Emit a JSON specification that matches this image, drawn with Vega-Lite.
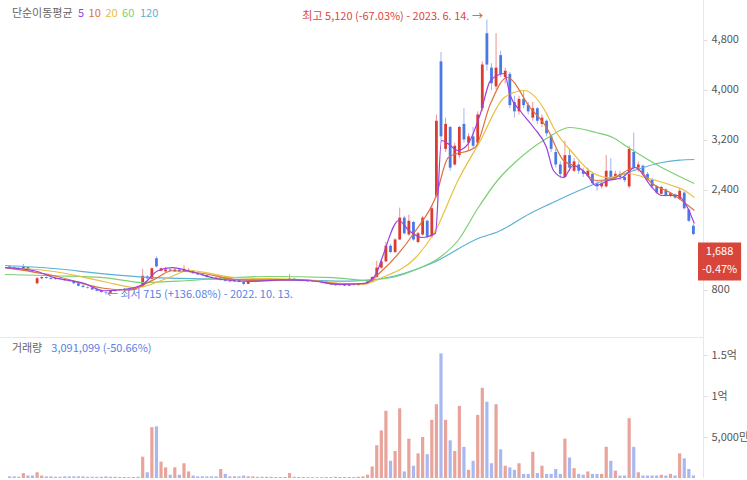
{
"$schema":"https://vega.github.io/schema/vega-lite/v6.json",
"padding":0,
"background":"white",
"config":{"view":{"stroke":null},"concat":{"spacing":0},"font":"Noto Sans CJK KR",
"axis":{"labelFont":"Noto Sans CJK KR","labelFontSize":11,"labelColor":"#555","tickColor":"#dddddd","tickSize":4,"domainColor":"#e8e8e8","grid":false,"title":null,"labelPadding":4}},
"datasets":{
"candles":[
{"i":0,"o":1170,"h":1185,"l":1150,"c":1160,"v":2},
{"i":1,"o":1160,"h":1175,"l":1140,"c":1150,"v":2},
{"i":2,"o":1145,"h":1160,"l":1130,"c":1140,"v":1.5},
{"i":3,"o":1140,"h":1210,"l":1135,"c":1170,"v":6},
{"i":4,"o":1160,"h":1165,"l":1100,"c":1110,"v":3},
{"i":5,"o":1110,"h":1120,"l":1080,"c":1090,"v":3},
{"i":6,"o":900,"h":1000,"l":880,"c":980,"v":7},
{"i":7,"o":980,"h":1010,"l":960,"c":1000,"v":3},
{"i":8,"o":1000,"h":1010,"l":975,"c":985,"v":2},
{"i":9,"o":985,"h":1000,"l":960,"c":970,"v":2},
{"i":10,"o":970,"h":990,"l":955,"c":980,"v":1.5},
{"i":11,"o":980,"h":995,"l":960,"c":970,"v":1.5},
{"i":12,"o":965,"h":975,"l":940,"c":950,"v":2},
{"i":13,"o":950,"h":960,"l":925,"c":935,"v":2},
{"i":14,"o":935,"h":945,"l":890,"c":900,"v":2},
{"i":15,"o":900,"h":905,"l":850,"c":860,"v":2},
{"i":16,"o":860,"h":880,"l":830,"c":840,"v":2},
{"i":17,"o":840,"h":850,"l":815,"c":830,"v":1.5},
{"i":18,"o":830,"h":840,"l":795,"c":800,"v":1.5},
{"i":19,"o":800,"h":810,"l":770,"c":780,"v":1.5},
{"i":20,"o":780,"h":790,"l":750,"c":760,"v":1.5},
{"i":21,"o":760,"h":770,"l":715,"c":750,"v":2},
{"i":22,"o":750,"h":790,"l":740,"c":775,"v":1.5},
{"i":23,"o":775,"h":800,"l":765,"c":790,"v":1.5},
{"i":24,"o":790,"h":810,"l":780,"c":795,"v":1.2},
{"i":25,"o":795,"h":815,"l":785,"c":805,"v":1.2},
{"i":26,"o":805,"h":810,"l":790,"c":798,"v":1},
{"i":27,"o":800,"h":830,"l":795,"c":820,"v":1.2},
{"i":28,"o":820,"h":840,"l":810,"c":830,"v":1.5},
{"i":29,"o":840,"h":1130,"l":835,"c":1020,"v":26},
{"i":30,"o":1010,"h":1030,"l":960,"c":980,"v":7},
{"i":31,"o":970,"h":1150,"l":960,"c":1140,"v":62},
{"i":32,"o":1300,"h":1330,"l":1150,"c":1170,"v":63},
{"i":33,"o":1100,"h":1150,"l":1090,"c":1140,"v":20},
{"i":34,"o":1090,"h":1160,"l":1080,"c":1120,"v":13},
{"i":35,"o":1120,"h":1130,"l":1090,"c":1100,"v":4},
{"i":36,"o":1090,"h":1140,"l":1085,"c":1120,"v":13},
{"i":37,"o":1120,"h":1125,"l":1080,"c":1090,"v":4},
{"i":38,"o":1090,"h":1190,"l":1085,"c":1130,"v":18},
{"i":39,"o":1100,"h":1140,"l":1090,"c":1115,"v":8},
{"i":40,"o":1100,"h":1105,"l":1050,"c":1060,"v":3},
{"i":41,"o":1060,"h":1070,"l":1030,"c":1040,"v":2},
{"i":42,"o":1040,"h":1050,"l":1020,"c":1030,"v":2},
{"i":43,"o":1030,"h":1035,"l":990,"c":1000,"v":2},
{"i":44,"o":1000,"h":1010,"l":980,"c":990,"v":2},
{"i":45,"o":990,"h":1000,"l":970,"c":980,"v":2},
{"i":46,"o":960,"h":1010,"l":940,"c":990,"v":11},
{"i":47,"o":985,"h":990,"l":930,"c":940,"v":5},
{"i":48,"o":940,"h":950,"l":915,"c":930,"v":2},
{"i":49,"o":930,"h":960,"l":925,"c":950,"v":2},
{"i":50,"o":950,"h":955,"l":915,"c":920,"v":2},
{"i":51,"o":920,"h":925,"l":870,"c":890,"v":3},
{"i":52,"o":890,"h":935,"l":885,"c":930,"v":2},
{"i":53,"o":930,"h":960,"l":925,"c":950,"v":2},
{"i":54,"o":950,"h":955,"l":930,"c":940,"v":1.5},
{"i":55,"o":940,"h":970,"l":935,"c":960,"v":1.5},
{"i":56,"o":960,"h":965,"l":940,"c":950,"v":1.5},
{"i":57,"o":950,"h":980,"l":945,"c":970,"v":1.5},
{"i":58,"o":970,"h":975,"l":950,"c":960,"v":1.2},
{"i":59,"o":960,"h":965,"l":940,"c":950,"v":1.2},
{"i":60,"o":950,"h":970,"l":945,"c":960,"v":1.2},
{"i":61,"o":955,"h":1050,"l":950,"c":975,"v":6},
{"i":62,"o":975,"h":980,"l":945,"c":950,"v":1.5},
{"i":63,"o":950,"h":955,"l":935,"c":940,"v":1.2},
{"i":64,"o":940,"h":960,"l":935,"c":950,"v":1.2},
{"i":65,"o":950,"h":952,"l":925,"c":930,"v":1.2},
{"i":66,"o":930,"h":945,"l":925,"c":940,"v":1},
{"i":67,"o":940,"h":942,"l":915,"c":920,"v":1},
{"i":68,"o":920,"h":935,"l":915,"c":930,"v":1},
{"i":69,"o":930,"h":932,"l":895,"c":900,"v":1.2},
{"i":70,"o":900,"h":905,"l":875,"c":880,"v":1.2},
{"i":71,"o":880,"h":885,"l":860,"c":870,"v":1.5},
{"i":72,"o":870,"h":890,"l":865,"c":880,"v":1.2},
{"i":73,"o":880,"h":882,"l":855,"c":860,"v":1.2},
{"i":74,"o":860,"h":885,"l":855,"c":880,"v":1.2},
{"i":75,"o":880,"h":885,"l":865,"c":870,"v":1.2},
{"i":76,"o":870,"h":895,"l":865,"c":890,"v":1.5},
{"i":77,"o":890,"h":905,"l":880,"c":900,"v":2},
{"i":78,"o":900,"h":940,"l":895,"c":930,"v":4},
{"i":79,"o":930,"h":1010,"l":925,"c":1000,"v":14},
{"i":80,"o":1000,"h":1260,"l":990,"c":1150,"v":40},
{"i":81,"o":1150,"h":1290,"l":1130,"c":1250,"v":58},
{"i":82,"o":1250,"h":1560,"l":1240,"c":1500,"v":82},
{"i":83,"o":1500,"h":1530,"l":1380,"c":1400,"v":21},
{"i":84,"o":1400,"h":1620,"l":1380,"c":1600,"v":33},
{"i":85,"o":1600,"h":2110,"l":1590,"c":1950,"v":85},
{"i":86,"o":1950,"h":1980,"l":1680,"c":1700,"v":8},
{"i":87,"o":1680,"h":2000,"l":1660,"c":1900,"v":48},
{"i":88,"o":1880,"h":1900,"l":1580,"c":1600,"v":15},
{"i":89,"o":1560,"h":1720,"l":1540,"c":1700,"v":30},
{"i":90,"o":1680,"h":1980,"l":1660,"c":1950,"v":50},
{"i":91,"o":1900,"h":1920,"l":1620,"c":1650,"v":29},
{"i":92,"o":1650,"h":2150,"l":1630,"c":2100,"v":71},
{"i":93,"o":2300,"h":3600,"l":2270,"c":3500,"v":90},
{"i":94,"o":4450,"h":4600,"l":3150,"c":3250,"v":152},
{"i":95,"o":3050,"h":3550,"l":3000,"c":3450,"v":71},
{"i":96,"o":3400,"h":3420,"l":2700,"c":2750,"v":46},
{"i":97,"o":2800,"h":3150,"l":2780,"c":3100,"v":33},
{"i":98,"o":2950,"h":3420,"l":2900,"c":3400,"v":88},
{"i":99,"o":3450,"h":3700,"l":3150,"c":3200,"v":38},
{"i":100,"o":3150,"h":3300,"l":3020,"c":3250,"v":10},
{"i":101,"o":3250,"h":3400,"l":3050,"c":3100,"v":21},
{"i":102,"o":3150,"h":3650,"l":3100,"c":3600,"v":77},
{"i":103,"o":3700,"h":4450,"l":3650,"c":4400,"v":110},
{"i":104,"o":4900,"h":5120,"l":4300,"c":4400,"v":93},
{"i":105,"o":4350,"h":4420,"l":3990,"c":4100,"v":18},
{"i":106,"o":4050,"h":4900,"l":4000,"c":4350,"v":90},
{"i":107,"o":4550,"h":4620,"l":4200,"c":4250,"v":35},
{"i":108,"o":4200,"h":4350,"l":4100,"c":4300,"v":15},
{"i":109,"o":4250,"h":4280,"l":3700,"c":3750,"v":13},
{"i":110,"o":3800,"h":3900,"l":3550,"c":3650,"v":10},
{"i":111,"o":3650,"h":3900,"l":3600,"c":3850,"v":18},
{"i":112,"o":3850,"h":3980,"l":3700,"c":3750,"v":5},
{"i":113,"o":3750,"h":3800,"l":3600,"c":3650,"v":5},
{"i":114,"o":3550,"h":3800,"l":3500,"c":3700,"v":32},
{"i":115,"o":3700,"h":3720,"l":3450,"c":3500,"v":6},
{"i":116,"o":3450,"h":3600,"l":3400,"c":3550,"v":15},
{"i":117,"o":3500,"h":3520,"l":3250,"c":3300,"v":5},
{"i":118,"o":3250,"h":3280,"l":3000,"c":3050,"v":5},
{"i":119,"o":3000,"h":3050,"l":2750,"c":2800,"v":11},
{"i":120,"o":2800,"h":2850,"l":2580,"c":2650,"v":5},
{"i":121,"o":2600,"h":3180,"l":2580,"c":2950,"v":48},
{"i":122,"o":2950,"h":3050,"l":2700,"c":2750,"v":25},
{"i":123,"o":2700,"h":2900,"l":2680,"c":2850,"v":12},
{"i":124,"o":2800,"h":2850,"l":2650,"c":2700,"v":5},
{"i":125,"o":2700,"h":2750,"l":2600,"c":2650,"v":4},
{"i":126,"o":2620,"h":2750,"l":2600,"c":2700,"v":8},
{"i":127,"o":2650,"h":2680,"l":2480,"c":2500,"v":5},
{"i":128,"o":2500,"h":2550,"l":2380,"c":2450,"v":5},
{"i":129,"o":2450,"h":2550,"l":2420,"c":2500,"v":5},
{"i":130,"o":2450,"h":2950,"l":2430,"c":2700,"v":38},
{"i":131,"o":2700,"h":2900,"l":2550,"c":2600,"v":21},
{"i":132,"o":2580,"h":2700,"l":2560,"c":2650,"v":9},
{"i":133,"o":2650,"h":2700,"l":2550,"c":2600,"v":3},
{"i":134,"o":2600,"h":2650,"l":2520,"c":2550,"v":3},
{"i":135,"o":2450,"h":3100,"l":2420,"c":3050,"v":73},
{"i":136,"o":3000,"h":3310,"l":2700,"c":2750,"v":38},
{"i":137,"o":2750,"h":2850,"l":2680,"c":2800,"v":7},
{"i":138,"o":2780,"h":2800,"l":2620,"c":2650,"v":3},
{"i":139,"o":2650,"h":2680,"l":2540,"c":2560,"v":3},
{"i":140,"o":2560,"h":2580,"l":2430,"c":2450,"v":3},
{"i":141,"o":2450,"h":2470,"l":2330,"c":2350,"v":3},
{"i":142,"o":2330,"h":2460,"l":2320,"c":2440,"v":4},
{"i":143,"o":2400,"h":2420,"l":2290,"c":2300,"v":3},
{"i":144,"o":2300,"h":2360,"l":2280,"c":2340,"v":5},
{"i":145,"o":2320,"h":2340,"l":2250,"c":2270,"v":3},
{"i":146,"o":2250,"h":2420,"l":2230,"c":2380,"v":30},
{"i":147,"o":2350,"h":2370,"l":2080,"c":2100,"v":24},
{"i":148,"o":2080,"h":2100,"l":1880,"c":1900,"v":11},
{"i":149,"o":1820,"h":1850,"l":1670,"c":1688,"v":3.1}
],
"ma":[
{"k":"120","i":-1,"p":1184},{"k":"120","i":9.7,"p":1136},{"k":"120","i":20.5,"p":1050},{"k":"120","i":31.2,"p":990},{"k":"120","i":41.9,"p":970},{"k":"120","i":52.6,"p":960},{"k":"120","i":63.4,"p":950},{"k":"120","i":74.1,"p":935},{"k":"120","i":81.2,"p":976},{"k":"120","i":91.9,"p":1216},{"k":"120","i":102.6,"p":1632},{"k":"120","i":106.3,"p":1720},{"k":"120","i":113.4,"p":2016},{"k":"120","i":117.0,"p":2144},{"k":"120","i":120.7,"p":2272},{"k":"120","i":127.8,"p":2496},{"k":"120","i":134.8,"p":2672},{"k":"120","i":142.1,"p":2832},{"k":"120","i":146.0,"p":2870},{"k":"120","i":149.2,"p":2880},
{"k":"60","i":-1,"p":1040},{"k":"60","i":9.7,"p":1020},{"k":"60","i":20.5,"p":990},{"k":"60","i":29.0,"p":912},{"k":"60","i":38.3,"p":940},{"k":"60","i":48.4,"p":990},{"k":"60","i":56.3,"p":1008},{"k":"60","i":70.5,"p":990},{"k":"60","i":77.3,"p":950},{"k":"60","i":83.3,"p":992},{"k":"60","i":89.1,"p":1136},{"k":"60","i":93.4,"p":1296},{"k":"60","i":97.7,"p":1584},{"k":"60","i":102.0,"p":2096},{"k":"60","i":106.3,"p":2544},{"k":"60","i":110.6,"p":2864},{"k":"60","i":117.0,"p":3216},{"k":"60","i":122.0,"p":3392},{"k":"60","i":127.8,"p":3312},{"k":"60","i":131.4,"p":3232},{"k":"60","i":134.8,"p":3072},{"k":"60","i":142.1,"p":2752},{"k":"60","i":149.2,"p":2496},
{"k":"20","i":-1,"p":1152},{"k":"20","i":9.7,"p":1088},{"k":"20","i":20.5,"p":928},{"k":"20","i":27.5,"p":830},{"k":"20","i":34.8,"p":992},{"k":"20","i":39.1,"p":1104},{"k":"20","i":49.0,"p":992},{"k":"20","i":63.4,"p":960},{"k":"20","i":72.0,"p":900},{"k":"20","i":77.3,"p":890},{"k":"20","i":81.2,"p":992},{"k":"20","i":88.5,"p":1312},{"k":"20","i":92.8,"p":1744},{"k":"20","i":97.7,"p":2544},{"k":"20","i":102.6,"p":3184},{"k":"20","i":107.8,"p":3872},{"k":"20","i":112.1,"p":3984},{"k":"20","i":117.0,"p":3616},{"k":"20","i":118.5,"p":3392},{"k":"20","i":122.8,"p":2976},{"k":"20","i":126.3,"p":2704},{"k":"20","i":130.5,"p":2592},{"k":"20","i":134.8,"p":2656},{"k":"20","i":138.5,"p":2592},{"k":"20","i":144.3,"p":2464},{"k":"20","i":147.1,"p":2384},{"k":"20","i":149.2,"p":2272},
{"k":"10","i":-1,"p":1150},{"k":"10","i":9.7,"p":1020},{"k":"10","i":20.5,"p":820},{"k":"10","i":25.8,"p":790},{"k":"10","i":31.2,"p":950},{"k":"10","i":35.5,"p":1100},{"k":"10","i":41.9,"p":1060},{"k":"10","i":49.0,"p":960},{"k":"10","i":54.8,"p":940},{"k":"10","i":63.4,"p":960},{"k":"10","i":72.0,"p":890},{"k":"10","i":77.3,"p":890},{"k":"10","i":81.2,"p":1104},{"k":"10","i":88.5,"p":1744},{"k":"10","i":92.8,"p":2272},{"k":"10","i":95.6,"p":2912},{"k":"10","i":101.4,"p":3072},{"k":"10","i":104.8,"p":3776},{"k":"10","i":108.4,"p":4192},{"k":"10","i":113.4,"p":3712},{"k":"10","i":117.0,"p":3392},{"k":"10","i":120.7,"p":2864},{"k":"10","i":124.1,"p":2752},{"k":"10","i":127.8,"p":2544},{"k":"10","i":131.4,"p":2576},{"k":"10","i":136.3,"p":2752},{"k":"10","i":140.0,"p":2496},{"k":"10","i":144.3,"p":2336},{"k":"10","i":149.2,"p":2064},
{"k":"5","i":-1,"p":1150},{"k":"5","i":5.4,"p":1100},{"k":"5","i":9.7,"p":990},{"k":"5","i":16.2,"p":900},{"k":"5","i":20.5,"p":780},{"k":"5","i":24.8,"p":800},{"k":"5","i":29.0,"p":880},{"k":"5","i":32.3,"p":1100},{"k":"5","i":35.5,"p":1150},{"k":"5","i":39.8,"p":1080},{"k":"5","i":46.2,"p":960},{"k":"5","i":52.6,"p":930},{"k":"5","i":59.1,"p":955},{"k":"5","i":65.5,"p":940},{"k":"5","i":72.0,"p":880},{"k":"5","i":77.3,"p":900},{"k":"5","i":79.9,"p":1056},{"k":"5","i":81.2,"p":1312},{"k":"5","i":84.8,"p":1904},{"k":"5","i":87.0,"p":1744},{"k":"5","i":89.8,"p":1632},{"k":"5","i":92.8,"p":1700},{"k":"5","i":94.1,"p":3184},{"k":"5","i":95.6,"p":3130},{"k":"5","i":97.7,"p":3024},{"k":"5","i":99.9,"p":3130},{"k":"5","i":102.6,"p":3616},{"k":"5","i":104.8,"p":4144},{"k":"5","i":107.8,"p":4256},{"k":"5","i":109.1,"p":3900},{"k":"5","i":111.2,"p":3664},{"k":"5","i":114.2,"p":3392},{"k":"5","i":117.0,"p":3072},{"k":"5","i":118.5,"p":2704},{"k":"5","i":120.7,"p":2592},{"k":"5","i":122.8,"p":2784},{"k":"5","i":125.6,"p":2656},{"k":"5","i":127.8,"p":2464},{"k":"5","i":130.5,"p":2544},{"k":"5","i":133.5,"p":2592},{"k":"5","i":136.3,"p":2752},{"k":"5","i":140.0,"p":2432},{"k":"5","i":142.1,"p":2304},{"k":"5","i":145.6,"p":2304},{"k":"5","i":147.7,"p":2112},{"k":"5","i":149.2,"p":1856}
],
"legend":[
{"i":0.5,"p":5216,"t":"단순이동평균","k":"txt"},
{"i":14.9,"p":5216,"t":"5","k":"5"},
{"i":17.2,"p":5216,"t":"10","k":"10"},
{"i":20.9,"p":5216,"t":"20","k":"20"},
{"i":24.5,"p":5216,"t":"60","k":"60"},
{"i":28.4,"p":5216,"t":"120","k":"120"}
]
},
"vconcat":[
{
"width":703,"height":337,
"layer":[
{"data":{"name":"candles"},"mark":{"type":"rule","strokeWidth":1,"opacity":0.55},
"encoding":{
"x":{"field":"i","type":"quantitative","scale":{"domain":[-1,150],"nice":false,"zero":false},"axis":{"labels":false,"ticks":false,"grid":false,"domain":true,"domainColor":"#e8e8e8"}},
"y":{"field":"l","type":"quantitative","scale":{"domain":[40,5432],"nice":false,"zero":false},"axis":{"orient":"right","values":[800,2400,3200,4000,4800],"format":",d"}},
"y2":{"field":"h"},
"color":{"condition":{"test":"datum.c >= datum.o","value":"#dc3b31"},"value":"#4a79e6"}}},
{"data":{"name":"candles"},"mark":{"type":"bar","size":2.8},
"encoding":{
"x":{"field":"i","type":"quantitative"},
"y":{"field":"o","type":"quantitative"},
"y2":{"field":"c"},
"color":{"condition":{"test":"datum.c >= datum.o","value":"#dc3b31"},"value":"#4a79e6"}}},
{"data":{"name":"ma"},"mark":{"type":"line","strokeWidth":1.2,"interpolate":"monotone"},
"encoding":{
"x":{"field":"i","type":"quantitative"},
"y":{"field":"p","type":"quantitative"},
"color":{"field":"k","type":"nominal","scale":{"domain":["5","10","20","60","120","txt"],"range":["#9b40e2","#e0703a","#e6c03f","#7dcf74","#5bb1d6","#666666"]},"legend":null},
"detail":{"field":"k"}}},
{"data":{"name":"legend"},"mark":{"type":"text","align":"left","baseline":"middle","fontSize":11,"font":"Noto Sans CJK KR"},
"encoding":{
"x":{"field":"i","type":"quantitative"},
"y":{"field":"p","type":"quantitative"},
"text":{"field":"t"},
"color":{"field":"k","type":"nominal","legend":null}}},
{"data":{"values":[{"i":104,"p":5160,"t":"최고 5,120 (-67.03%) - 2023. 6. 14. →"}]},"mark":{"type":"text","align":"right","baseline":"middle","fontSize":11,"dx":-4,"color":"#d9473d","font":"Noto Sans CJK KR"},
"encoding":{"x":{"field":"i","type":"quantitative"},"y":{"field":"p","type":"quantitative"},"text":{"field":"t"}}},
{"data":{"values":[{"i":21,"p":715,"t":"← 최저 715 (+136.08%) - 2022. 10. 13."}]},"mark":{"type":"text","align":"left","baseline":"middle","fontSize":11,"dx":1,"color":"#5b7fe6","font":"Noto Sans CJK KR"},
"encoding":{"x":{"field":"i","type":"quantitative"},"y":{"field":"p","type":"quantitative"},"text":{"field":"t"}}},
{"data":{"values":[{"a":150,"b":159.4,"p1":1552,"p2":944}]},"mark":{"type":"rect","color":"#d8453a"},
"encoding":{"x":{"field":"a","type":"quantitative"},"x2":{"field":"b"},"y":{"field":"p1","type":"quantitative"},"y2":{"field":"p2"}}},
{"data":{"values":[{"i":154.7,"p":1400,"t":"1,688"},{"i":154.7,"p":1110,"t":"-0.47%"}]},"mark":{"type":"text","align":"center","baseline":"middle","fontSize":11,"color":"white","font":"Noto Sans CJK KR"},
"encoding":{"x":{"field":"i","type":"quantitative"},"y":{"field":"p","type":"quantitative"},"text":{"field":"t"}}}
]
},
{
"width":703,"height":141,
"layer":[
{"data":{"name":"candles"},"mark":{"type":"bar","size":3.2},
"encoding":{
"x":{"field":"i","type":"quantitative","scale":{"domain":[-1,150],"nice":false,"zero":false},"axis":null},
"y":{"field":"v","type":"quantitative","scale":{"domain":[0,172],"nice":false},"axis":{"orient":"right","values":[50,100,150],"labelExpr":"datum.value == 150 ? '1.5억' : datum.value == 100 ? '1억' : '5,000만'"}},
"color":{"condition":{"test":"datum.c >= datum.o","value":"#e8a39b"},"value":"#a9b8f1"}}},
{"data":{"values":[{"i":0.5,"v":157,"t":"거래량"}]},"mark":{"type":"text","align":"left","baseline":"middle","fontSize":11,"color":"#666666","font":"Noto Sans CJK KR"},
"encoding":{"x":{"field":"i","type":"quantitative"},"y":{"field":"v","type":"quantitative"},"text":{"field":"t"}}},
{"data":{"values":[{"i":9.1,"v":157,"t":"3,091,099 (-50.66%)"}]},"mark":{"type":"text","align":"left","baseline":"middle","fontSize":11,"color":"#5b7fe6","font":"Noto Sans CJK KR"},
"encoding":{"x":{"field":"i","type":"quantitative"},"y":{"field":"v","type":"quantitative"},"text":{"field":"t"}}}
]
}
]
}
